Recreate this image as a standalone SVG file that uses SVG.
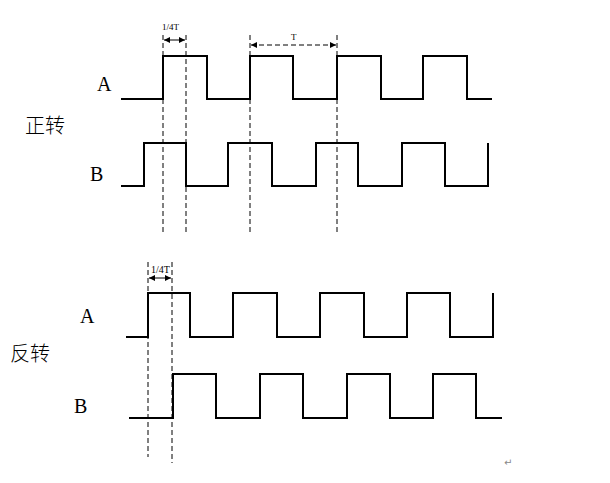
<svg xmlns="http://www.w3.org/2000/svg" width="610" height="483" viewBox="0 0 610 483">
<style>
.w{fill:none;stroke:#000;stroke-width:2}
.d{fill:none;stroke:#000;stroke-width:1;stroke-dasharray:5,3}
.t{font-family:"Liberation Serif","Times New Roman","DejaVu Serif",serif;fill:#000}
.c{font-family:"Noto Sans CJK SC",sans-serif;fill:#000;font-weight:300}
</style>
<defs>
<marker id="ah" viewBox="0 0 10 10" refX="10" refY="5" markerWidth="6" markerHeight="6" orient="auto-start-reverse"><path d="M0,0L10,5L0,10z" fill="#000"/></marker>
</defs>
<rect width="610" height="483" fill="#fff"/>
<g id="labels">
<text class="t" x="97" y="91" font-size="20">A</text>
<text class="t" x="90" y="181" font-size="20">B</text>
<text class="c" x="25" y="133" font-size="20">正转</text>
<text class="t" x="80" y="323" font-size="20">A</text>
<text class="t" x="74" y="413" font-size="20">B</text>
<text class="c" x="10" y="361" font-size="20">反转</text>
<text class="t" x="162" y="30" font-size="9">1/4T</text>
<text class="t" x="291" y="40" font-size="9">T</text>
<text class="t" x="151" y="273" font-size="10">1/4T</text>
<text x="504" y="466" font-size="10" fill="#888" font-family="'Noto Sans CJK SC','DejaVu Sans',sans-serif">↵</text>
</g>
<g id="waveA1"><path class="w" d="M121,99H163V56H207V99H250V56H293V99H337V56H381V99H423V56H467V99H492"/></g>
<g id="waveB1"><path class="w" d="M121,186H144V143H186V186H228V143H272V186H316V143H358V186H402V143H445V186H488V143"/></g>
<g id="waveA2"><path class="w" d="M126,337H148V293H190V337H233V293H277V337H320V293H364V337H407V293H450V337H493V293"/></g>
<g id="waveB2"><path class="w" d="M129,418H173V374H216V418H260V374H303V418H347V374H390V418H433V374H476V418H502"/></g>
<g id="connectors">
<path class="d" d="M163,35V232M186,35V232M250,35V235M337,35V232M148,262V457M172,262V463"/>
<path fill="none" stroke="#000" stroke-width="1" marker-start="url(#ah)" marker-end="url(#ah)" d="M164,40H185"/>
<path fill="none" stroke="#000" stroke-width="1" stroke-dasharray="5,3" marker-start="url(#ah)" marker-end="url(#ah)" d="M251,45H336"/>
<path fill="none" stroke="#000" stroke-width="1" marker-start="url(#ah)" marker-end="url(#ah)" d="M149,278H171"/>
</g>
</svg>
